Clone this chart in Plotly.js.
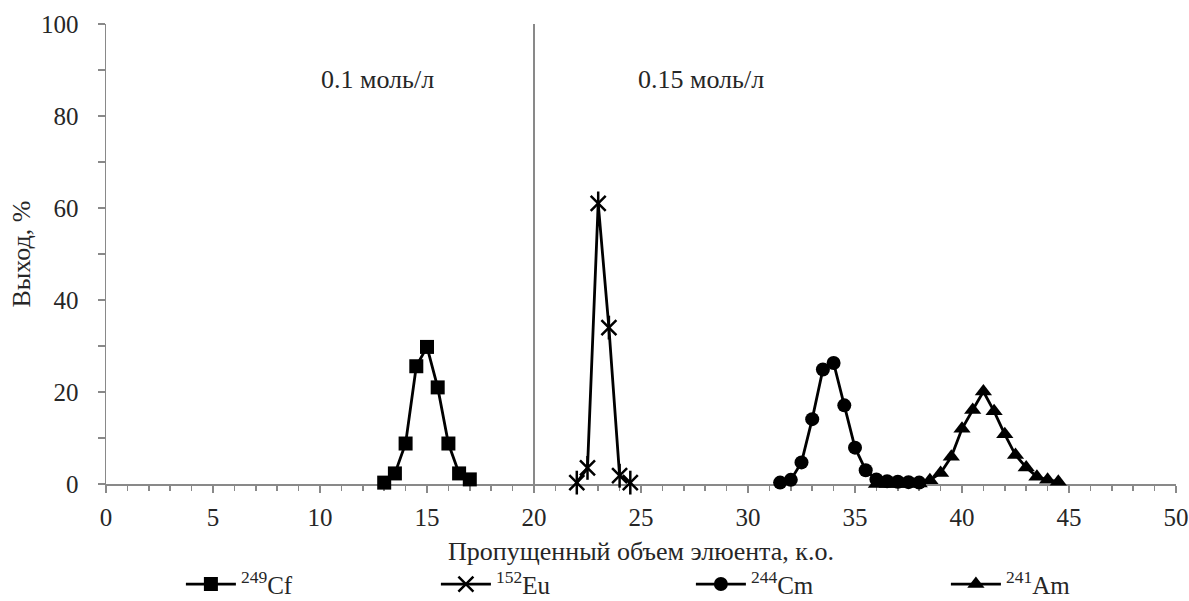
<!DOCTYPE html>
<html>
<head>
<meta charset="utf-8">
<script src="https://cdn.plot.ly/plotly-3.0.1.min.js"></script>
<style>html,body{margin:0;padding:0;background:#fff}#chart{width:1189px;height:601px}</style>
</head>
<body>
<div id="chart"></div>
<script>
// Data
const cfX = [13, 13.5, 14, 14.5, 15, 15.5, 16, 16.5, 17];
const cfY = [0.3, 2.3, 8.8, 25.6, 29.8, 21.0, 8.8, 2.3, 1.0];

const euX = [22, 22.5, 23, 23.5, 24, 24.5];
const euY = [0.3, 3.5, 61.0, 34.0, 1.8, 0.3];

const cmX = [31.5, 32, 32.5, 33, 33.5, 34, 34.5, 35, 35.5, 36, 36.5, 37, 37.5, 38];
const cmY = [0.3, 0.9, 4.7, 14.1, 24.9, 26.3, 17.1, 7.9, 3.0, 1.0, 0.6, 0.5, 0.4, 0.3];

const amX = [36, 36.5, 37, 37.5, 38, 38.5, 39, 39.5, 40, 40.5, 41, 41.5, 42, 42.5, 43, 43.5, 44, 44.5];
const amY = [0.0, 0.0, 0.0, 0.0, 0.1, 0.8, 2.4, 5.9, 12.0, 16.1, 20.1, 15.8, 10.8, 6.3, 3.6, 1.6, 0.9, 0.5];

const seriesNames = ['<sup>249</sup>Cf', '<sup>152</sup>Eu', '<sup>244</sup>Cm', '<sup>241</sup>Am'];
const xTitle = 'Пропущенный объем элюента, к.о.';
const yTitle = 'Выход, %';
const regionLabels = ['0.1 моль/л', '0.15 моль/л'];
const regionLabelX = [12.7, 27.8];
const regionLabelY = 88;
const dividerX = 20;

const lineStyle = {color: '#000', width: 2.8};
const font = "'Liberation Serif', 'Times New Roman', serif";
const txt = '#262626';

const traces = [
  {x: cfX, y: cfY, name: seriesNames[0], mode: 'lines+markers', line: lineStyle,
   marker: {symbol: 'square', size: 14, color: '#000'}, cliponaxis: false},
  {x: euX, y: euY, name: seriesNames[1], mode: 'lines+markers', line: lineStyle,
   marker: {symbol: 'x-thin-open', size: 15, color: '#000', line: {color: '#000', width: 2.5}}, cliponaxis: false},
  {x: cmX, y: cmY, name: seriesNames[2], mode: 'lines+markers', line: lineStyle,
   marker: {symbol: 'circle', size: 14, color: '#000'}, cliponaxis: false},
  {x: amX, y: amY, name: seriesNames[3], mode: 'lines+markers', line: lineStyle,
   marker: {symbol: 'triangle-up', size: 15, color: '#000'}, cliponaxis: false},
  {x: euX, y: euY, mode: 'markers', showlegend: false, hoverinfo: 'skip',
   marker: {symbol: 'line-ns-open', size: 17, color: '#000', line: {color: '#000', width: 2.5}}, cliponaxis: false}
];

const layout = {
  width: 1189, height: 601,
  margin: {l: 106, r: 13, t: 24, b: 117, autoexpand: false},
  paper_bgcolor: '#fff', plot_bgcolor: '#fff',
  font: {family: font, size: 25, color: txt},
  showlegend: true,
  legend: {orientation: 'h', x: 0.07, xanchor: 'left', y: -0.168, yanchor: 'top',
           font: {family: font, size: 25, color: txt},
           entrywidth: 190, entrywidthmode: 'pixels', itemwidth: 50, tracegroupgap: 0},
  xaxis: {range: [0, 50], dtick: 5, tick0: 0, showgrid: false, zeroline: false,
          showline: true, linecolor: '#898989', linewidth: 1.5,
          ticks: 'outside', ticklen: 7, tickcolor: '#898989', tickwidth: 1.5,
          minor: {dtick: 1, ticks: 'outside', ticklen: 5, tickcolor: '#898989', tickwidth: 1.5, showgrid: false},
          tickfont: {family: font, size: 25, color: txt}, ticklabelstandoff: 3,
          title: {text: xTitle, font: {family: font, size: 26, color: txt}, standoff: 12},
          layer: 'below traces', fixedrange: true},
  yaxis: {range: [0, 100], dtick: 20, tick0: 0, showgrid: false, zeroline: false,
          showline: true, linecolor: '#898989', linewidth: 1.5,
          ticks: 'outside', ticklen: 7, tickcolor: '#898989', tickwidth: 1.5,
          minor: {dtick: 10, ticks: 'outside', ticklen: 7, tickcolor: '#898989', tickwidth: 1.5, showgrid: false},
          tickfont: {family: font, size: 25, color: txt}, ticklabelstandoff: 14,
          title: {text: yTitle, font: {family: font, size: 26, color: txt}, standoff: 3},
          layer: 'below traces', fixedrange: true},
  shapes: [{type: 'line', xref: 'x', yref: 'y', x0: dividerX, x1: dividerX, y0: 0, y1: 100,
            line: {color: '#898989', width: 2}, layer: 'below'}],
  annotations: regionLabels.map((t, i) => ({
    text: t, x: regionLabelX[i], y: regionLabelY, xref: 'x', yref: 'y',
    showarrow: false, font: {family: font, size: 26, color: txt}
  }))
};

Plotly.newPlot('chart', traces, layout, {displayModeBar: false, staticPlot: true});
</script>
</body>
</html>
